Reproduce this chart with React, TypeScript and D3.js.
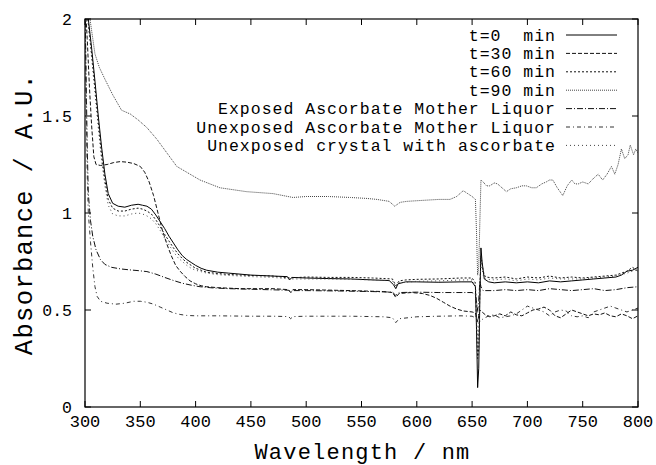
import React from "react";
import * as d3 from "d3";

type Pt = [number, number];

const xTicks = [300, 350, 400, 450, 500, 550, 600, 650, 700, 750, 800];
const yTicks = [0, 0.5, 1, 1.5, 2];
const yTickLabels = ["0", "0.5", "1", "1.5", "2"];

const seriesNames = [
  "t=0  min",
  "t=30 min",
  "t=60 min",
  "t=90 min",
  "Exposed Ascorbate Mother Liquor",
  "Unexposed Ascorbate Mother Liquor",
  "Unexposed crystal with ascorbate",
];

const t0: Pt[] = [[300,2.1],[303,2.0],[306,1.85],[309,1.68],[312,1.5],[315,1.34],[318,1.2],[321,1.1],[325,1.05],[330,1.035],[336,1.03],[342,1.04],[348,1.045],[352,1.04],[356,1.035],[360,1.02],[364,0.99],[368,0.955],[372,0.92],[376,0.88],[380,0.845],[384,0.81],[388,0.78],[392,0.76],[396,0.745],[400,0.73],[405,0.715],[410,0.705],[420,0.695],[430,0.69],[450,0.68],[470,0.675],[483,0.672],[485,0.655],[487,0.668],[500,0.665],[520,0.662],[540,0.66],[560,0.655],[575,0.652],[579,0.63],[581,0.61],[583,0.635],[590,0.645],[600,0.645],[620,0.643],[640,0.645],[650,0.645],[653,0.62],[654,0.4],[655,0.1],[656,0.2],[657,0.55],[658,0.82],[659,0.75],[661,0.66],[665,0.645],[670,0.64],[680,0.645],[690,0.64],[700,0.645],[710,0.64],[720,0.65],[730,0.645],[740,0.65],[750,0.655],[760,0.66],[770,0.665],[780,0.67],[785,0.68],[790,0.7],[795,0.705],[800,0.72]];

const t30: Pt[] = [[300,2.1],[302,1.9],[304,1.65],[306,1.45],[308,1.29],[310,1.25],[314,1.245],[320,1.25],[326,1.26],[332,1.265],[338,1.262],[344,1.255],[350,1.24],[354,1.21],[358,1.16],[362,1.09],[366,1.0],[370,0.91],[374,0.84],[378,0.78],[382,0.73],[386,0.7],[390,0.675],[395,0.65],[400,0.635],[405,0.625],[410,0.62],[420,0.615],[440,0.61],[470,0.61],[484,0.605],[486,0.59],[488,0.605],[500,0.605],[540,0.6],[570,0.595],[578,0.59],[581,0.565],[584,0.585],[595,0.59],[605,0.585],[612,0.575],[618,0.56],[624,0.54],[630,0.52],[636,0.505],[642,0.495],[650,0.49],[653,0.485],[655,0.44],[656,0.47],[657,0.5],[659,0.49],[662,0.475],[666,0.465],[670,0.47],[675,0.48],[680,0.47],[685,0.49],[690,0.475],[695,0.47],[700,0.485],[705,0.5],[710,0.505],[715,0.515],[720,0.5],[725,0.47],[730,0.46],[735,0.48],[740,0.5],[745,0.49],[750,0.48],[755,0.47],[760,0.48],[765,0.475],[770,0.485],[775,0.47],[780,0.465],[785,0.48],[790,0.47],[795,0.455],[800,0.47]];

const t60: Pt[] = [[300,2.1],[303,1.98],[306,1.82],[309,1.65],[312,1.47],[315,1.3],[318,1.17],[321,1.07],[325,1.025],[330,1.01],[336,1.01],[342,1.02],[348,1.025],[352,1.02],[356,1.01],[360,0.995],[364,0.965],[368,0.93],[372,0.89],[376,0.855],[380,0.82],[384,0.79],[388,0.765],[392,0.745],[396,0.73],[400,0.715],[405,0.705],[410,0.695],[420,0.688],[430,0.683],[450,0.678],[470,0.675],[485,0.665],[500,0.67],[520,0.668],[540,0.668],[560,0.665],[578,0.66],[581,0.625],[584,0.65],[590,0.655],[600,0.658],[620,0.66],[640,0.665],[650,0.665],[653,0.64],[655,0.25],[656,0.3],[657,0.6],[658,0.78],[660,0.7],[662,0.67],[670,0.665],[680,0.67],[690,0.66],[700,0.67],[710,0.665],[720,0.675],[730,0.665],[740,0.67],[750,0.665],[760,0.67],[770,0.675],[780,0.68],[790,0.7],[795,0.72],[800,0.7]];

const t90: Pt[] = [[300,2.2],[304,2.02],[307,1.9],[309,1.82],[313,1.75],[318,1.69],[325,1.61],[333,1.53],[341,1.51],[348,1.48],[356,1.44],[365,1.38],[374,1.31],[383,1.24],[392,1.21],[404,1.17],[422,1.13],[446,1.11],[470,1.1],[488,1.08],[500,1.085],[520,1.085],[540,1.08],[555,1.075],[564,1.07],[575,1.06],[580,1.035],[585,1.055],[591,1.06],[605,1.065],[620,1.07],[630,1.07],[636,1.085],[642,1.115],[646,1.1],[650,1.085],[653,1.07],[654,0.9],[655,0.68],[656,0.72],[657,0.95],[658,1.17],[660,1.16],[663,1.14],[666,1.14],[670,1.155],[673,1.15],[677,1.13],[681,1.11],[685,1.125],[690,1.13],[695,1.14],[699,1.14],[704,1.13],[708,1.13],[713,1.15],[717,1.16],[720,1.17],[723,1.17],[727,1.13],[732,1.09],[736,1.14],[740,1.17],[743,1.15],[746,1.15],[750,1.16],[755,1.15],[760,1.18],[764,1.2],[768,1.17],[772,1.2],[776,1.24],[779,1.2],[782,1.25],[785,1.33],[788,1.28],[791,1.3],[793,1.35],[796,1.3],[798,1.33],[800,1.31]];

const expML: Pt[] = [[300,2.1],[301,1.7],[302,1.35],[303,1.1],[305,0.96],[307,0.88],[310,0.81],[314,0.76],[318,0.735],[324,0.72],[332,0.712],[340,0.707],[348,0.703],[356,0.698],[364,0.685],[372,0.668],[380,0.652],[388,0.638],[396,0.628],[404,0.62],[415,0.614],[430,0.61],[450,0.607],[470,0.604],[484,0.602],[486,0.59],[488,0.6],[500,0.6],[530,0.598],[560,0.595],[578,0.592],[581,0.575],[584,0.59],[600,0.592],[620,0.59],[640,0.59],[650,0.59],[653,0.58],[655,0.5],[656,0.55],[657,0.65],[658,0.62],[660,0.6],[670,0.6],[680,0.605],[690,0.6],[700,0.605],[710,0.6],[720,0.61],[730,0.605],[740,0.6],[750,0.605],[760,0.61],[770,0.6],[780,0.605],[790,0.615],[800,0.62]];

const unexpML: Pt[] = [[300,2.1],[301,1.6],[302,1.2],[303,1.0],[305,0.85],[307,0.72],[309,0.62],[311,0.57],[314,0.545],[320,0.535],[328,0.53],[336,0.535],[344,0.545],[350,0.545],[356,0.54],[362,0.53],[368,0.515],[374,0.5],[380,0.485],[386,0.477],[392,0.472],[400,0.47],[420,0.47],[450,0.468],[470,0.468],[484,0.466],[486,0.455],[488,0.466],[500,0.468],[540,0.468],[570,0.465],[578,0.46],[581,0.435],[584,0.455],[600,0.465],[620,0.468],[640,0.47],[650,0.468],[653,0.46],[655,0.5],[657,0.44],[660,0.455],[665,0.47],[670,0.475],[675,0.46],[680,0.465],[685,0.47],[690,0.48],[695,0.5],[700,0.52],[705,0.51],[710,0.5],[715,0.49],[720,0.47],[725,0.49],[730,0.5],[735,0.495],[740,0.47],[745,0.465],[750,0.47],[755,0.46],[760,0.49],[765,0.5],[770,0.51],[775,0.52],[780,0.51],[785,0.5],[790,0.49],[795,0.5],[800,0.51]];

const crystal: Pt[] = [[300,2.1],[303,1.97],[306,1.8],[309,1.62],[312,1.44],[315,1.27],[318,1.14],[321,1.04],[325,0.995],[330,0.985],[336,0.985],[342,0.995],[348,1.0],[352,0.995],[356,0.985],[360,0.97],[364,0.945],[368,0.91],[372,0.87],[376,0.835],[380,0.8],[384,0.77],[388,0.75],[392,0.73],[396,0.715],[400,0.705],[410,0.69],[420,0.682],[430,0.678],[450,0.672],[470,0.668],[485,0.66],[500,0.66],[520,0.66],[540,0.658],[560,0.655],[578,0.65],[581,0.62],[584,0.64],[600,0.648],[620,0.65],[640,0.655],[650,0.655],[653,0.63],[655,0.3],[656,0.35],[657,0.62],[658,0.75],[660,0.68],[662,0.66],[670,0.655],[680,0.66],[690,0.65],[700,0.66],[710,0.655],[720,0.665],[730,0.66],[740,0.66],[750,0.66],[760,0.665],[770,0.67],[780,0.675],[790,0.69],[800,0.71]];

const seriesData: Pt[][] = [t0, t30, t60, t90, expML, unexpML, crystal];
const seriesDash = ["", "4,2", "2,2", "1,1", "6,2,1,2", "4,3,1,3", "1,3"];
const seriesColor = ["#000", "#111", "#111", "#444", "#111", "#333", "#444"];

const W = 656;
const H = 465;
const left = 85, right = 638, top = 19, bottom = 407;
const FONT = "'Liberation Mono', 'Courier New', monospace";

export default function App() {
  const x = d3.scaleLinear().domain([300, 800]).range([left, right]);
  const y = d3.scaleLinear().domain([0, 2]).range([bottom, top]);
  const line = d3.line<Pt>().x((d) => x(d[0])).y((d) => y(d[1]));
  const tick = 6;
  const legX2 = 617, legX1 = 566, legTextX = 555;
  const legY0 = 35, legDy = 18.4;

  return (
    <svg width={W} height={H} style={{ position: "absolute", left: 0, top: 0, background: "#fff" }}>
      <defs>
        <clipPath id="plot">
          <rect x={left} y={top} width={right - left} height={bottom - top} />
        </clipPath>
      </defs>
      <rect width={W} height={H} fill="#fff" />
      <g clipPath="url(#plot)">
        {seriesData.map((s, i) => (
          <path key={i} d={line(s) || ""} fill="none" stroke={seriesColor[i]} strokeWidth={1}
            strokeDasharray={seriesDash[i] || undefined} />
        ))}
      </g>
      <rect x={left} y={top} width={right - left} height={bottom - top} fill="none" stroke="#000" strokeWidth={1.2} />
      {xTicks.map((t) => (
        <g key={"x" + t}>
          <line x1={x(t)} x2={x(t)} y1={bottom} y2={bottom - tick} stroke="#000" />
          <line x1={x(t)} x2={x(t)} y1={top} y2={top + tick} stroke="#000" />
          <text x={x(t)} y={427} textAnchor="middle" fontFamily={FONT} fontSize={17} fill="#000">{t}</text>
        </g>
      ))}
      {yTicks.map((t, i) => (
        <g key={"y" + t}>
          <line x1={left} x2={left + tick} y1={y(t)} y2={y(t)} stroke="#000" />
          <line x1={right} x2={right - tick} y1={y(t)} y2={y(t)} stroke="#000" />
          <text x={72} y={y(t) + 6} textAnchor="end" fontFamily={FONT} fontSize={16.5} fill="#000">{yTickLabels[i]}</text>
        </g>
      ))}
      <text x={(left + right) / 2 + 1} y={459} textAnchor="middle" fontFamily={FONT} fontSize={22} letterSpacing={1.2} fill="#000">Wavelength / nm</text>
      <text transform={`translate(32, ${(top + bottom) / 2 + 1}) rotate(-90)`} textAnchor="middle" fontFamily={FONT} fontSize={25.5} letterSpacing={1.3} fill="#000">Absorbance / A.U.</text>
      {seriesNames.map((n, i) => {
        const cy = legY0 + i * legDy;
        return (
          <g key={"l" + i}>
            <text x={legTextX + 1} y={cy + 5.5} textAnchor="end" fontFamily={FONT} fontSize={16.5} letterSpacing={1.0} fill="#000" style={{ whiteSpace: "pre" }}>{n}</text>
            <line x1={legX1} x2={legX2} y1={cy} y2={cy} stroke={seriesColor[i]} strokeWidth={1}
              strokeDasharray={seriesDash[i] || undefined} />
          </g>
        );
      })}
    </svg>
  );
}
